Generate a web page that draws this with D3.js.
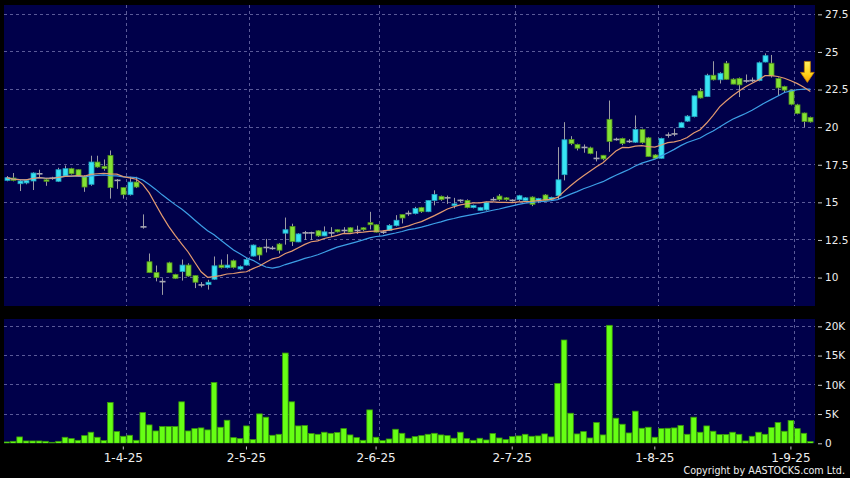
<!DOCTYPE html>
<html><head><meta charset="utf-8">
<script src="https://cdn.jsdelivr.net/npm/d3@7"></script>
<style>html,body{margin:0;padding:0;background:#000;}svg{display:block}</style>
</head><body><svg id="c" width="850" height="478"></svg>
<script>
// ---------------- DATA ----------------
const dates = [
"6-3-25","7-3-25","10-3-25","11-3-25","12-3-25","13-3-25","14-3-25","17-3-25","18-3-25","19-3-25","20-3-25","21-3-25","24-3-25","25-3-25","26-3-25","27-3-25","28-3-25","31-3-25",
"1-4-25","2-4-25","3-4-25","7-4-25","8-4-25","9-4-25","10-4-25","11-4-25","14-4-25","15-4-25","16-4-25","17-4-25","22-4-25","23-4-25","24-4-25","25-4-25","28-4-25","29-4-25","30-4-25",
"2-5-25","6-5-25","7-5-25","8-5-25","9-5-25","12-5-25","13-5-25","14-5-25","15-5-25","16-5-25","19-5-25","20-5-25","21-5-25","22-5-25","23-5-25","26-5-25","27-5-25","28-5-25","29-5-25","30-5-25",
"2-6-25","3-6-25","4-6-25","5-6-25","6-6-25","9-6-25","10-6-25","11-6-25","12-6-25","13-6-25","16-6-25","17-6-25","18-6-25","19-6-25","20-6-25","23-6-25","24-6-25","25-6-25","26-6-25","27-6-25","30-6-25",
"2-7-25","3-7-25","4-7-25","7-7-25","8-7-25","9-7-25","10-7-25","11-7-25","14-7-25","15-7-25","16-7-25","17-7-25","18-7-25","21-7-25","22-7-25","23-7-25","24-7-25","25-7-25","28-7-25","29-7-25","30-7-25","31-7-25",
"1-8-25","4-8-25","5-8-25","6-8-25","7-8-25","8-8-25","11-8-25","12-8-25","13-8-25","14-8-25","15-8-25","18-8-25","19-8-25","20-8-25","21-8-25","22-8-25","25-8-25","26-8-25","27-8-25","28-8-25","29-8-25",
"1-9-25","2-9-25","3-9-25","4-9-25"];

const open = [
16.46,16.62,16.24,16.29,16.42,16.90,16.50,16.60,16.40,16.75,17.24,17.17,16.73,16.20,17.68,17.40,18.12,16.46,
15.98,15.51,16.35,13.37,11.05,10.33,9.73,10.98,10.20,10.40,10.83,10.13,9.51,9.53,9.89,10.83,10.66,11.12,10.57,
10.83,11.43,12.00,12.00,11.94,12.23,12.95,13.40,12.37,12.97,12.97,13.11,12.77,12.97,13.18,13.13,13.31,13.13,13.31,13.65,
13.51,13.02,13.13,13.45,14.19,14.26,14.26,14.65,14.38,15.13,15.40,15.30,14.78,15.13,15.13,14.65,14.47,14.50,15.18,15.42,15.30,
15.13,15.18,15.13,15.35,15.13,15.49,15.20,15.44,16.84,19.18,18.85,18.65,18.62,17.92,18.13,20.52,19.18,19.25,19.05,19.00,19.84,19.29,
18.15,17.93,19.47,19.55,19.97,20.40,20.70,22.40,22.03,23.45,23.15,24.25,23.19,23.24,23.07,23.10,23.10,24.33,24.25,23.23,22.70,
22.46,21.48,20.94,20.65];
const high = [
16.75,16.95,16.50,16.50,17.00,17.17,16.60,16.70,17.30,17.45,17.30,17.20,16.80,18.10,18.10,17.85,18.45,16.55,
16.00,16.70,16.70,14.20,11.60,10.80,9.95,11.05,10.25,11.20,10.95,10.15,9.70,9.85,11.40,11.20,11.55,11.20,10.80,
11.30,12.20,12.05,12.57,12.10,12.30,13.99,13.58,12.95,13.10,13.05,13.15,13.40,13.35,13.20,13.35,13.35,13.45,13.35,14.37,
13.55,13.10,13.55,14.15,14.20,14.45,14.70,14.70,15.15,15.80,15.45,15.45,15.30,15.20,15.20,14.85,14.70,15.05,15.35,15.55,15.35,
15.20,15.50,15.35,15.40,15.30,15.55,15.38,18.67,20.33,19.40,18.90,18.85,18.70,18.40,18.15,21.77,19.30,19.30,19.20,20.78,19.90,19.35,
18.20,19.30,19.65,19.90,20.35,20.80,22.10,22.60,23.55,24.38,23.65,24.40,23.25,23.30,23.50,23.30,24.36,24.90,24.80,23.30,22.75,
22.50,21.55,20.97,20.70];
const low = [
16.40,16.40,15.75,16.20,15.82,16.68,16.10,16.50,16.35,16.70,16.85,16.70,15.70,16.10,17.30,17.10,15.25,15.90,
15.25,15.45,15.95,13.25,10.30,9.75,8.85,10.30,9.90,9.80,10.05,9.30,9.35,9.20,9.85,10.60,10.60,10.60,10.50,
10.80,11.40,11.15,11.67,11.85,11.60,12.19,12.10,12.35,12.50,12.50,12.70,12.75,12.70,13.00,12.90,13.00,12.90,13.10,13.20,
13.00,12.90,13.10,13.40,13.60,14.10,14.20,14.30,14.35,14.80,15.10,14.90,14.60,15.00,14.60,14.60,14.45,14.45,15.10,15.10,15.10,
15.05,15.10,15.10,14.75,14.95,15.10,15.15,15.20,16.46,18.80,18.45,18.30,18.20,17.72,17.80,18.36,19.10,18.80,18.95,18.95,18.90,18.03,
17.90,17.90,19.30,19.40,19.95,20.35,20.65,21.90,22.00,23.10,22.90,23.15,22.85,22.00,22.95,23.00,23.05,24.30,23.30,22.10,22.30,
21.45,20.85,19.98,20.30];
const close = [
16.64,16.46,16.42,16.46,16.95,16.90,16.40,16.60,17.17,17.24,16.90,16.75,16.02,17.68,17.35,17.24,15.98,16.46,
15.51,16.35,16.02,13.37,10.33,10.00,9.73,10.33,9.95,10.83,10.10,9.69,9.51,9.69,10.78,10.66,10.83,10.68,10.72,
11.20,12.16,11.50,12.00,11.94,11.82,13.18,12.39,12.90,12.97,12.97,12.77,13.04,12.97,13.04,13.13,13.02,13.13,13.18,13.51,
13.02,13.02,13.47,13.81,13.96,14.26,14.60,14.38,15.13,15.53,15.18,15.30,14.90,15.13,14.65,14.80,14.65,15.00,15.18,15.18,15.18,
15.13,15.44,15.30,14.87,15.25,15.13,15.33,16.50,19.16,18.90,18.60,18.65,18.25,17.92,17.89,19.05,19.18,18.91,19.05,19.84,18.97,18.04,
17.93,19.25,19.47,19.55,20.29,20.73,22.08,21.94,23.45,23.15,23.58,23.18,22.86,22.81,23.07,23.10,24.28,24.75,23.41,22.61,22.46,
21.52,20.91,20.37,20.35];
// volume in thousands
const volume = [
0.23,0.34,1.09,0.40,0.40,0.40,0.34,0.17,0.34,1.03,0.80,0.51,1.31,1.89,1.03,0.46,6.97,2.00,
1.20,1.37,0.51,5.26,3.14,2.11,2.86,2.86,2.86,7.09,2.11,2.51,2.63,2.29,10.40,2.74,3.94,0.97,0.80,
2.97,0.63,5.03,4.46,1.37,1.54,15.43,7.09,2.97,3.03,1.66,1.54,1.89,1.71,1.83,2.51,1.43,0.97,0.51,5.71,
1.03,0.46,0.74,2.40,1.71,0.86,1.14,1.31,1.54,1.71,1.43,1.31,0.86,1.89,0.80,0.51,0.86,0.57,1.66,0.91,0.63,
1.14,1.26,1.54,1.20,1.26,1.60,1.09,10.23,17.66,5.14,1.60,2.00,0.91,3.54,1.43,20.17,4.29,3.26,1.77,5.49,2.57,2.74,
1.03,2.51,2.57,2.63,3.03,1.54,4.46,1.89,2.97,2.06,1.49,1.49,1.89,1.54,0.40,1.20,1.89,1.54,2.69,3.54,2.06,
3.89,2.51,1.71,0.29];

const dateTicks = ["1-4-25","2-5-25","2-6-25","2-7-25","1-8-25","1-9-25"];
const priceTicks = [10,12.5,15,17.5,20,22.5,25,27.5];
const volumeTicks = [0,5,10,15,20];
const maShort = 10, maLong = 20;

// ---------------- LAYOUT ----------------
const L = 4, R = 815, pT = 5, pB = 306, vT = 319, vB = 443.3;
const svg = d3.select("#c");
svg.append("rect").attr("width",850).attr("height",478).attr("fill","#000");

const x = d3.scaleBand().domain(dates).range([3.4, 813.6]);
const bw = x.bandwidth();
const cx = d => x(d) + bw/2;
const yP = d3.scaleLinear().domain([8.11, 28.12]).range([pB, pT]);
const yV = d3.scaleLinear().domain([0, 21.25]).range([vB, vT]);

const defs = svg.append("defs");
defs.append("clipPath").attr("id","cp").append("rect").attr("x",L).attr("y",pT).attr("width",R-L).attr("height",pB-pT);
defs.append("clipPath").attr("id","cv").append("rect").attr("x",L).attr("y",vT).attr("width",R-L).attr("height",vB-vT);
const gr = defs.append("linearGradient").attr("id","gold").attr("x1",0).attr("x2",0).attr("y1",0).attr("y2",1);
gr.append("stop").attr("offset","0%").attr("stop-color","#fff060");
gr.append("stop").attr("offset","60%").attr("stop-color","#ffd21a");
gr.append("stop").attr("offset","100%").attr("stop-color","#f5a000");

const BG = "#00004a", GRID = "#5a5a98";
svg.append("rect").attr("x",L).attr("y",pT).attr("width",R-L).attr("height",pB-pT).attr("fill",BG);
svg.append("rect").attr("x",L).attr("y",vT).attr("width",R-L).attr("height",vB-vT).attr("fill",BG);

// grid
const gGrid = svg.append("g").attr("stroke",GRID).attr("stroke-width",1).attr("stroke-dasharray","3,3").attr("shape-rendering","crispEdges");
gGrid.selectAll(".hp").data(priceTicks).join("line")
  .attr("x1",L).attr("x2",R).attr("y1",d=>yP(d)).attr("y2",d=>yP(d));
gGrid.selectAll(".hv").data(volumeTicks.filter(v=>v>0)).join("line").attr("class","hv")
  .attr("x1",L).attr("x2",R).attr("y1",d=>yV(d)).attr("y2",d=>yV(d));
gGrid.selectAll(".vp").data(dateTicks).join("line").attr("class","vp")
  .attr("x1",d=>x(d)+bw).attr("x2",d=>x(d)+bw).attr("y1",pT).attr("y2",pB);
gGrid.selectAll(".vv").data(dateTicks).join("line").attr("class","vv")
  .attr("x1",d=>x(d)+bw).attr("x2",d=>x(d)+bw).attr("y1",vT).attr("y2",vB);

// ---------------- CANDLES ----------------
const bars = dates.map((d,i)=>({d,o:open[i],h:high[i],l:low[i],c:close[i],v:volume[i]}));
const gP = svg.append("g").attr("clip-path","url(#cp)");
gP.selectAll(".wick").data(bars).join("line").attr("class","wick")
  .attr("x1",b=>Math.round(cx(b.d))+0.5).attr("x2",b=>Math.round(cx(b.d))+0.5)
  .attr("y1",b=>yP(b.h)).attr("y2",b=>yP(b.l))
  .attr("stroke","#9c9ca4").attr("stroke-width",1);
const bodyW = 5;
const solid = bars.filter(b=>Math.abs(b.c-b.o)>0.02);
const doji = bars.filter(b=>Math.abs(b.c-b.o)<=0.02);
gP.selectAll(".body").data(solid).join("rect").attr("class","body")
  .attr("x",b=>Math.round(cx(b.d))-2).attr("width",bodyW)
  .attr("y",b=>yP(Math.max(b.o,b.c))).attr("height",b=>Math.max(1,yP(Math.min(b.o,b.c))-yP(Math.max(b.o,b.c))))
  .attr("fill",b=>b.c>b.o?"#38e4f4":"#84e234")
  .attr("stroke",b=>b.c>b.o?"#1f9fbf":"#4f8f1c").attr("stroke-width",0.8);
gP.selectAll(".doji").data(doji).join("line").attr("class","doji")
  .attr("x1",b=>Math.round(cx(b.d))-2.5).attr("x2",b=>Math.round(cx(b.d))+3.5)
  .attr("y1",b=>yP(b.c)).attr("y2",b=>yP(b.c))
  .attr("stroke","#a8a8b4").attr("stroke-width",1.6);

// moving averages
function sma(n){ return close.map((c,i)=>d3.mean(close.slice(Math.max(0,i-n+1),i+1))); }
const ma10 = sma(maShort), ma20 = sma(maLong);
const line = arr => d3.line().x((v,i)=>cx(dates[i])).y(v=>yP(v))(arr);
gP.append("path").attr("d",line(ma20)).attr("fill","none").attr("stroke","#3d9fe6").attr("stroke-width",1.2);
gP.append("path").attr("d",line(ma10)).attr("fill","none").attr("stroke","#e39a70").attr("stroke-width",1.2);

// arrow marker at last bar
const last = dates.length-1;
const ax = cx(dates[last]) - 3, ay = yP(ma10[last]) - 9;
svg.append("path")
  .attr("d",`M${ax-3},${ay-21} h6 v11 h3.8 L${ax},${ay} L${ax-6.8},${ay-10} h3.8 Z`)
  .attr("fill","url(#gold)").attr("stroke","#c88400").attr("stroke-width",0.8);

// ---------------- VOLUME ----------------
const gV = svg.append("g").attr("clip-path","url(#cv)");
const vw = 5.6;
gV.selectAll(".vol").data(bars).join("rect").attr("class","vol")
  .attr("x",b=>cx(b.d)-vw/2).attr("width",vw)
  .attr("y",b=>yV(b.v)).attr("height",b=>yV(0)-yV(b.v))
  .attr("fill","#66ff14").attr("stroke","#3a9a0a").attr("stroke-width",0.8);

// ---------------- AXES ----------------
const font = "DejaVu Sans, Verdana, sans-serif";
function style(g, size){
  g.select(".domain").remove();
  g.selectAll(".tick line").attr("stroke","#c8c8c8");
  g.selectAll(".tick text").attr("fill","#eeeeee").attr("font-size",size).attr("font-family",font);
}
svg.append("g").attr("transform",`translate(818,0)`)
  .call(d3.axisRight(yP).tickValues(priceTicks).tickSize(4).tickPadding(3).tickFormat(d=>String(d)))
  .call(g=>style(g,10.5));
svg.append("g").attr("transform",`translate(818,0)`)
  .call(d3.axisRight(yV).tickValues(volumeTicks).tickSize(4).tickPadding(3).tickFormat(d=>d===0?"0":d+"K"))
  .call(g=>style(g,10.5));
svg.append("g").attr("transform",`translate(0,446.5)`)
  .call(d3.axisBottom(x).tickValues(dateTicks).tickSize(3).tickPadding(3.8))
  .call(g=>style(g,12));

svg.append("text").attr("x",845).attr("y",474).attr("text-anchor","end")
  .attr("fill","#eeeeee").attr("font-size",9.6).attr("font-family",font)
  .text("Copyright by AASTOCKS.com Ltd.");
</script></body></html>
